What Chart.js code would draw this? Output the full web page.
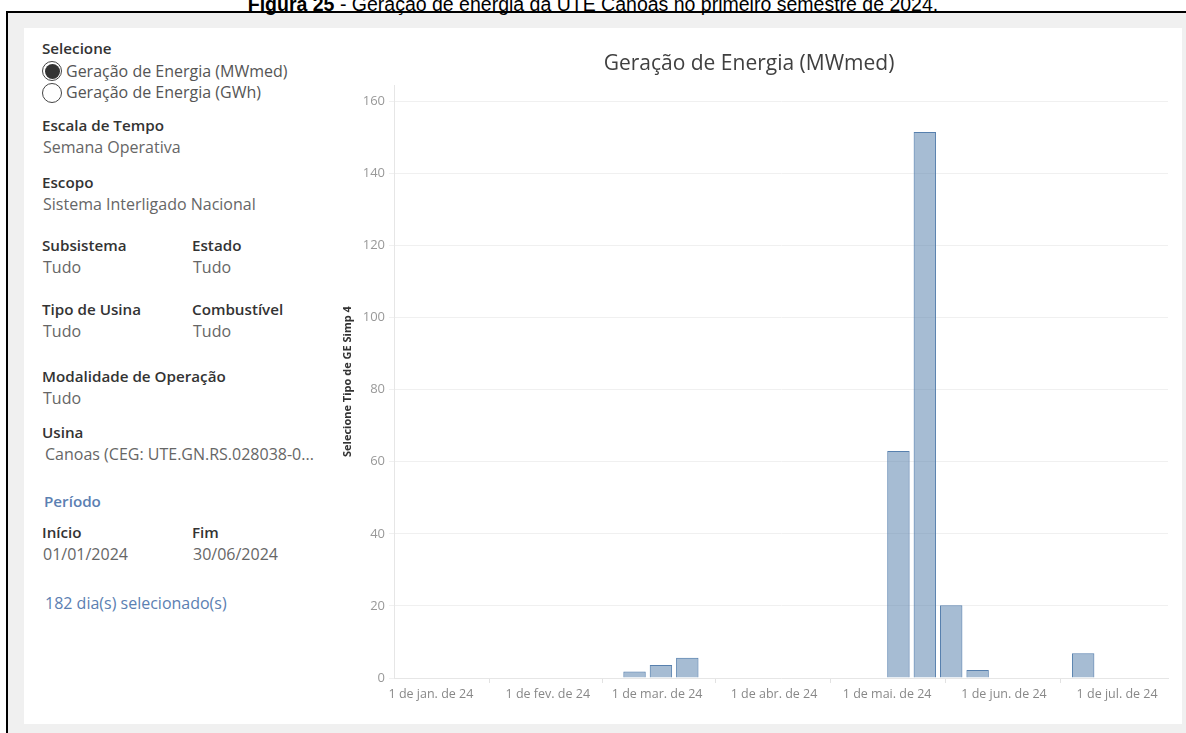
<!DOCTYPE html>
<html>
<head>
<meta charset="utf-8">
<script src="https://cdn.jsdelivr.net/npm/chart.js@4.4.1/dist/chart.umd.min.js"></script>
<style>
  body { margin: 0; background: #fff; width: 1186px; height: 733px; overflow: hidden; position: relative; font-family: "Open Sans", sans-serif; }
  .caption { position: absolute; left: 0; top: -6px; width: 1186px; text-align: center; font-family: "Liberation Sans", Arial, sans-serif; font-size: 19.5px; line-height: 20px; color: #000; z-index: 3; }
  .frame { position: absolute; left: 6px; top: 11px; width: 1190px; height: 740px; border-left: 2px solid #000; border-top: 2px solid #000; background: #f0f0f0; }
  .panel { position: absolute; left: 24px; top: 28px; width: 1158px; height: 696px; background: #fff; }
  .t { position: absolute; font-size: 16px; line-height: 20px; white-space: nowrap; }
  .h { font-weight: 600; color: #333; font-size: 15.2px; }
  .v { color: #666; }
  .b { color: #5b80b2; }
  .radio { position: absolute; width: 18px; height: 18px; border: 1.4px solid #444; border-radius: 50%; background: transparent; }
  .radio.on::after { content: ""; position: absolute; left: 1.5px; top: 1.5px; width: 15px; height: 15px; border-radius: 50%; background: #333; }
  #wrap { position: absolute; left: 330px; top: 30px; }
</style>
</head>
<body>
<div class="frame"></div>
<div class="panel"></div>
<div class="caption"><b>Figura 25</b> - Geração de energia da UTE Canoas no primeiro semestre de 2024.</div>

<div class="t h" style="left:42px;top:38px">Selecione</div>
<div class="radio on" style="left:42px;top:61px"></div>
<div class="t v" style="left:66px;top:61px;color:#555">Geração de Energia (MWmed)</div>
<div class="radio" style="left:42px;top:83px"></div>
<div class="t v" style="left:66px;top:82px;color:#555">Geração de Energia (GWh)</div>
<div class="t h" style="left:42px;top:115px">Escala de Tempo</div>
<div class="t v" style="left:43px;top:137px">Semana Operativa</div>
<div class="t h" style="left:42px;top:172px">Escopo</div>
<div class="t v" style="left:43px;top:194px">Sistema Interligado Nacional</div>
<div class="t h" style="left:42px;top:235px">Subsistema</div>
<div class="t h" style="left:192px;top:235px">Estado</div>
<div class="t v" style="left:43px;top:257px">Tudo</div>
<div class="t v" style="left:193px;top:257px">Tudo</div>
<div class="t h" style="left:42px;top:299px">Tipo de Usina</div>
<div class="t h" style="left:192px;top:299px">Combustível</div>
<div class="t v" style="left:43px;top:321px">Tudo</div>
<div class="t v" style="left:193px;top:321px">Tudo</div>
<div class="t h" style="left:42px;top:366px">Modalidade de Operação</div>
<div class="t v" style="left:43px;top:388px">Tudo</div>
<div class="t h" style="left:42px;top:422px">Usina</div>
<div class="t v" style="left:45px;top:444px">Canoas (CEG: UTE.GN.RS.028038-0...</div>
<div class="t h b" style="left:44px;top:491px">Período</div>
<div class="t h" style="left:42px;top:522px">Início</div>
<div class="t h" style="left:192px;top:522px">Fim</div>
<div class="t v" style="left:43px;top:544px">01/01/2024</div>
<div class="t v" style="left:193px;top:544px">30/06/2024</div>
<div class="t b" style="left:45px;top:593px">182 dia(s) selecionado(s)</div>

<div id="wrap"><canvas id="chart" width="850" height="690"></canvas></div>

<script>
// semanas operativas (início no sábado)
var weekStarts = ['2024-01-06', '2024-01-13', '2024-01-20', '2024-01-27', '2024-02-03', '2024-02-10',
    '2024-02-17', '2024-02-24', '2024-03-02', '2024-03-09', '2024-03-16', '2024-03-23', '2024-03-30',
    '2024-04-06', '2024-04-13', '2024-04-20', '2024-04-27', '2024-05-04', '2024-05-11', '2024-05-18',
    '2024-05-25', '2024-06-01', '2024-06-08', '2024-06-15', '2024-06-22', '2024-06-29'];
var geracaoMWmed = [0, 0, 0, 0, 0, 0,
    0, 1.8, 3.6, 5.6, 0, 0, 0,
    0, 0, 0, 0, 63, 151.5, 20.2,
    2.2, 0, 0, 0, 6.9, 0];

var monthStarts = ['2024-01-01', '2024-02-01', '2024-03-01', '2024-04-01', '2024-05-01', '2024-06-01', '2024-07-01'];
var monthLabels = ['1 de jan. de 24', '1 de fev. de 24', '1 de mar. de 24', '1 de abr. de 24',
    '1 de mai. de 24', '1 de jun. de 24', '1 de jul. de 24'];
var yTicks = [0, 20, 40, 60, 80, 100, 120, 140, 160];

function dayOf(s) {
    var p = s.split('-');
    return (Date.UTC(+p[0], +p[1] - 1, +p[2]) - Date.UTC(2024, 0, 1)) / 86400000;
}

var points = weekStarts.map(function(d, i) {
    return { x: dayOf(d), y: geracaoMWmed[i] };
});

var config = {
    type: 'bar',
    data: {
        datasets: [{
            label: 'Geração de Energia (MWmed)',
            data: points,
            backgroundColor: 'rgba(78, 121, 167, 0.5)',
            borderColor: '#5780ae',
            borderWidth: 1,
            borderSkipped: 'start',
            inflateAmount: 0,
            categoryPercentage: 1,
            barPercentage: 0.85
        }]
    },
    options: {
        responsive: false,
        animation: false,
        layout: { padding: { left: 0, right: 12, top: 0, bottom: 0 } },
        plugins: {
            legend: { display: false },
            tooltip: { enabled: false },
            title: {
                display: true,
                text: 'Geração de Energia (MWmed)',
                color: '#404040',
                font: { family: 'Open Sans', size: 21, weight: 'normal' },
                padding: { top: 21, bottom: 9 }
            }
        },
        scales: {
            x: {
                type: 'linear',
                min: -9.8,
                max: 195.5,
                offset: false,
                afterBuildTicks: function(scale) {
                    scale.ticks = monthStarts.map(function(d) { return { value: dayOf(d) }; });
                },
                afterFit: function(scale) { scale.height = 42; },
                ticks: {
                    color: '#888',
                    font: { family: 'Open Sans', size: 12.5 },
                    padding: 4,
                    maxRotation: 0,
                    autoSkip: false,
                    callback: function(v, i) { return monthLabels[i]; }
                },
                grid: { drawOnChartArea: false, drawTicks: true, tickLength: 5, color: '#e2e2e2' },
                border: { display: true, color: '#e6e6e6' }
            },
            y: {
                min: 0,
                max: 164.5,
                afterBuildTicks: function(scale) {
                    scale.ticks = yTicks.map(function(v) { return { value: v }; });
                },
                afterFit: function(scale) { scale.width = 64; },
                ticks: { color: '#999', font: { family: 'Open Sans', size: 13 }, padding: 4 },
                grid: { color: '#f0f0f0', tickLength: 5 },
                border: { display: true, color: '#e6e6e6' },
                title: {
                    display: true,
                    text: 'Selecione Tipo de GE Simp 4',
                    color: '#333',
                    font: { family: 'Open Sans', size: 11, weight: 'bold' },
                    padding: { top: 11, bottom: 0 }
                }
            }
        }
    }
};

new Chart(document.getElementById('chart').getContext('2d'), config);
</script>
</body>
</html>
